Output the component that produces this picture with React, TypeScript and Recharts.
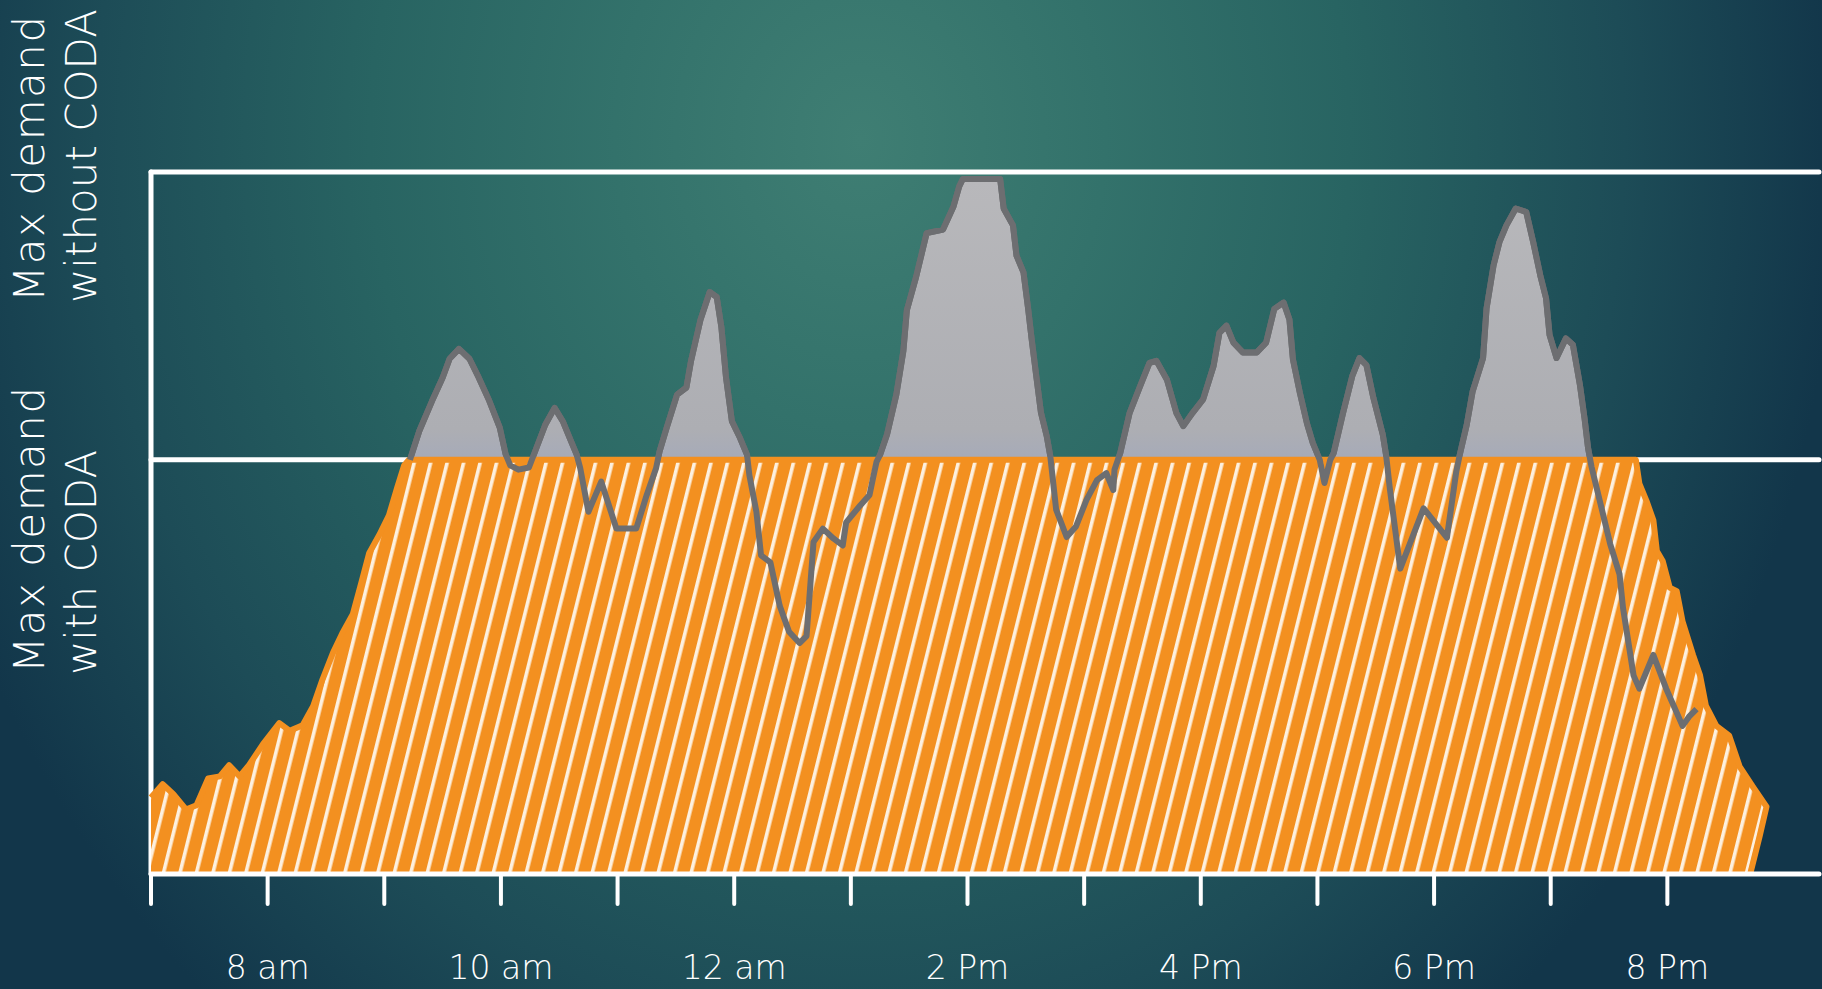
import React from 'react';
import { ComposedChart, Area, Line, XAxis, YAxis } from 'recharts';

const W = 1822;
const H = 989;

// Demand without CODA (grey), hour of day -> demand (0..100 scale, 100 = top line)
const hoursWithout = [
  9.22, 9.3, 9.41, 9.5, 9.56, 9.64, 9.73, 9.81, 9.9, 9.99, 10.04, 10.08, 10.15, 10.24, 10.3,
  10.38, 10.46, 10.53, 10.59, 10.65, 10.68, 10.75, 10.86, 10.99, 11.16, 11.25, 11.33, 11.36,
  11.42, 11.51, 11.59, 11.63, 11.71, 11.79, 11.85, 11.89, 11.93, 11.98, 12.05, 12.11, 12.13,
  12.19, 12.23, 12.31, 12.39, 12.47, 12.56, 12.62, 12.65, 12.68, 12.76, 12.85, 12.93, 12.96,
  13.08, 13.16, 13.19, 13.22, 13.25, 13.31, 13.39, 13.45, 13.48, 13.56, 13.65, 13.79, 13.88,
  13.93, 13.96, 14.28, 14.31, 14.39, 14.42, 14.48, 14.52, 14.55, 14.59, 14.63, 14.68, 14.71,
  14.76, 14.85, 14.93, 15.02, 15.11, 15.19, 15.25, 15.26, 15.31, 15.39, 15.48, 15.56, 15.62,
  15.71, 15.79, 15.85, 15.93, 16.02, 16.11, 16.16, 16.22, 16.28, 16.36, 16.48, 16.56, 16.63,
  16.71, 16.76, 16.79, 16.85, 16.91, 16.96, 17.02, 17.06, 17.11, 17.14, 17.22, 17.3, 17.36,
  17.42, 17.48, 17.56, 17.59, 17.62, 17.71, 17.91, 18.11, 18.19, 18.22, 18.28, 18.33, 18.42,
  18.45, 18.51, 18.56, 18.62, 18.7, 18.79, 18.85, 18.91, 18.96, 18.99, 19.05, 19.13, 19.19,
  19.25, 19.29, 19.32, 19.35, 19.42, 19.51, 19.59, 19.62, 19.71, 19.76, 19.88, 19.99, 20.13,
  20.19, 20.25,
];
const demandWithout = [
  59, 63.1, 67.4, 70.7, 73.4, 74.8, 73.4, 70.7, 67.4, 63.6, 59.8, 58.2, 57.6, 57.9, 60.5,
  64, 66.4, 64.5, 62.1, 59.7, 57.8, 51.6, 55.9, 49.2, 49.2, 54, 57.8, 60.2,
  63.5, 68.3, 69.3, 73.1, 78.9, 82.9, 82.2, 77.9, 70.7, 64.5, 62.1, 59.7, 56.8,
  51.6, 45.4, 44.4, 38.2, 34.5, 32.9, 33.9, 40.6, 47.3, 49.2, 47.8, 46.8, 50.1,
  52.5, 54, 56.4, 58.7, 59.7, 62.6, 68.3, 74.5, 80.3, 85.1, 91.3, 91.8, 95.1,
  98, 99, 99, 94.8, 92.4, 88.1, 85.7, 80.5, 76.2, 70.9, 65.7, 62.3, 59.5,
  51.9, 48, 49.5, 53.3, 56.1, 57.1, 54.7, 57.6, 60, 65.7, 69.5, 72.8, 73.1,
  70.4, 65.7, 63.8, 65.7, 67.6, 72.4, 77.1, 78.1, 75.7, 74.3, 74.3, 75.7, 80.5,
  81.4, 79, 73.3, 68.5, 64.2, 61.4, 59, 55.7, 59, 60, 65.7, 71, 73.5,
  72.5, 67.8, 62.6, 59.5, 55, 43.5, 52.1, 47.9, 57.3, 59.7, 64, 68.7, 73.5,
  80.6, 86.7, 90, 92.4, 94.8, 94.3, 90, 85.3, 82, 76.8, 73.5, 76.3, 75.4,
  69.7, 64.9, 60.7, 58, 53.2, 47, 42.7, 37.9, 28.3, 26.4, 31.2, 26.4, 21.1,
  22.5, 23.5,
];

// Demand with CODA (orange hatched)
const hoursWith = [
  7.0, 7.1, 7.19, 7.3, 7.39, 7.49, 7.59, 7.67, 7.76, 7.84, 7.96, 8.1, 8.19, 8.3, 8.39, 8.47,
  8.56, 8.64, 8.73, 8.81, 8.87, 8.96, 9.04, 9.11, 9.17, 9.21, 19.73, 19.76, 19.82, 19.88,
  19.91, 19.96, 20.02, 20.08, 20.13, 20.22, 20.28, 20.33, 20.42, 20.53, 20.62, 20.73, 20.85,
  20.79, 20.71,
];
const demandWith = [
  10.9, 12.8, 11.4, 9.2, 9.8, 13.6, 13.9, 15.5, 13.9, 15.5, 18.5, 21.5, 20.4, 21.2, 23.9, 27.7,
  31.5, 34.3, 37, 41.9, 45.7, 48.4, 51.1, 55, 58.2, 59, 59, 55.6, 53.2, 50.4,
  46, 44.6, 40.8, 40.3, 36, 31.2, 28.3, 24, 21.1, 19.7, 15.3, 12.5, 9.6,
  5.3, 0,
];

const capLevel = 59; // "Max demand with CODA"
const topLevel = 100; // "Max demand without CODA"
const xStart = 7;
const xEnd = 21.3;
const tickHours = [7, 8, 9, 10, 11, 12, 13, 14, 15, 16, 17, 18, 19, 20];
const labelHours = [8, 10, 12, 14, 16, 18, 20];
const labelTexts = ['8 am', '10 am', '12 am', '2 Pm', '4 Pm', '6 Pm', '8 Pm'];

const withoutData = hoursWithout.map((h, i) => ({ h, v: demandWithout[i] }));
const withData = hoursWith.map((h, i) => ({ h, v: demandWith[i] }));
const capLine = [{ h: xStart, v: capLevel }, { h: xEnd, v: capLevel }];
const topLine = [{ h: xStart, v: topLevel }, { h: xEnd, v: topLevel }];
const leftLine = [{ h: xStart, v: 0 }, { h: xStart, v: topLevel }];

const FONT = "'DejaVu Sans', 'Noto Sans', sans-serif";

const renderTick = (props: any) => {
  const { x, y, payload } = props;
  const idx = labelHours.indexOf(payload.value);
  if (idx < 0) return <g />;
  return (
    <text x={x} y={y + 73} textAnchor="middle" fill="#ffffff" fontSize={33} fontFamily={FONT} fontWeight={300}>
      {labelTexts[idx]}
    </text>
  );
};

const guide = {
  type: 'linear' as const,
  dataKey: 'v',
  fill: 'none',
  stroke: '#ffffff',
  strokeWidth: 5,
  strokeLinecap: 'round' as const,
  isAnimationActive: false,
  dot: false,
  activeDot: false,
};

export default function App() {
  return (
    <div
      style={{
        position: 'absolute',
        left: 0,
        top: 0,
        width: W,
        height: H,
        overflow: 'hidden',
        background:
          'radial-gradient(ellipse 980px 1150px at 860px 140px, #3f7e73 0%, #33726b 25%, #286462 50%, #1d4c57 78%, #12364a 100%)',
      }}
    >
      <svg width={W} height={H} style={{ position: 'absolute', left: 0, top: 0 }}>
        <g fill="#ffffff" fontFamily={FONT} fontSize={42} fontWeight={300}>
          <text transform="translate(44,302) rotate(-90)" letterSpacing={1.5}>Max demand</text>
          <text transform="translate(96,303) rotate(-90)">without CODA</text>
          <text transform="translate(44,673) rotate(-90)" letterSpacing={1.5}>Max demand</text>
          <text transform="translate(96,675) rotate(-90)">with CODA</text>
        </g>
      </svg>
      <div style={{ position: 'absolute', left: 0, top: 0 }}>
        <ComposedChart width={W} height={H} margin={{ top: 172, right: 3, bottom: 85, left: 151 }}>
          <defs>
            <pattern id="hatch" patternUnits="userSpaceOnUse" width="16" height="16" patternTransform="rotate(14)">
              <rect width="16" height="16" fill="#f39020" />
              <rect x="0" y="0" width="3.6" height="16" fill="#fdf0df" />
            </pattern>
            <linearGradient id="greyFill" x1="0" y1="0" x2="0" y2="1">
              <stop offset="0%" stopColor="#b8b8bb" />
              <stop offset="36%" stopColor="#adaeb3" />
              <stop offset="42%" stopColor="#a3a9bb" />
              <stop offset="100%" stopColor="#a3a9bb" />
            </linearGradient>
          </defs>
          <XAxis
            type="number"
            dataKey="h"
            domain={[xStart, xEnd]}
            ticks={tickHours}
            interval={0}
            height={30}
            tickSize={30}
            tickLine={{ stroke: '#ffffff', strokeWidth: 4, strokeLinecap: 'round' }}
            axisLine={{ stroke: '#ffffff', strokeWidth: 5, strokeLinecap: 'round' }}
            tick={renderTick}
          />
          <YAxis hide type="number" domain={[0, topLevel]} />
          <Area data={capLine} {...guide} />
          <Area data={leftLine} {...guide} />
          <Area
            data={withoutData}
            dataKey="v"
            type="linear"
            fill="url(#greyFill)"
            fillOpacity={1}
            stroke="#6d6e71"
            strokeWidth={6}
            strokeLinejoin="round"
            isAnimationActive={false}
          />
          <Area data={topLine} {...guide} />
          <Area
            data={withData}
            dataKey="v"
            type="linear"
            fill="url(#hatch)"
            fillOpacity={1}
            stroke="#f39020"
            strokeWidth={6}
            strokeLinejoin="round"
            isAnimationActive={false}
          />
          <Line
            data={withoutData}
            dataKey="v"
            type="linear"
            stroke="#6d6e71"
            strokeWidth={6}
            strokeLinejoin="round"
            dot={false}
            isAnimationActive={false}
          />
        </ComposedChart>
      </div>
    </div>
  );
}
